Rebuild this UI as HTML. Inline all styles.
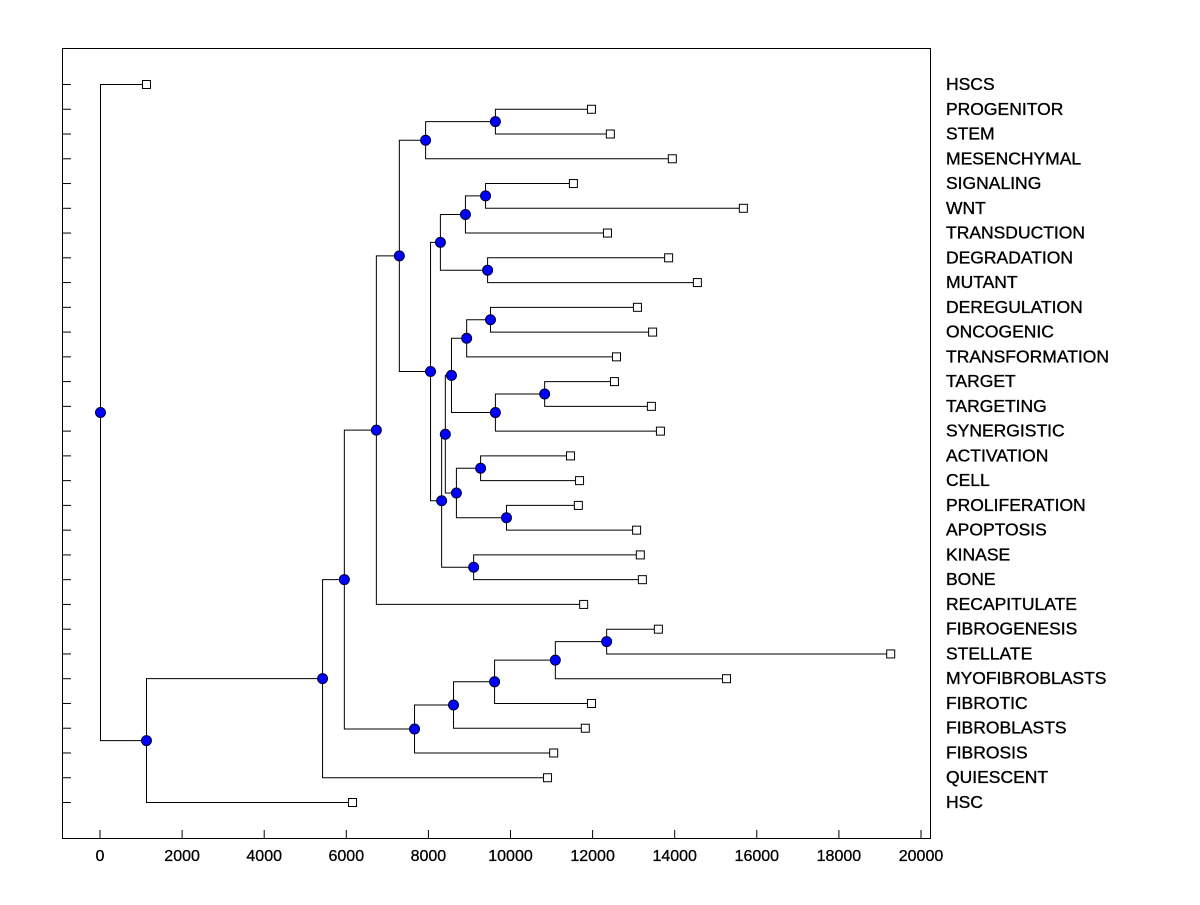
<!DOCTYPE html>
<html><head><meta charset="utf-8"><style>
body{margin:0;background:#fff}
svg text{font-family:"Liberation Sans",Arial,sans-serif;font-size:16px;fill:#000}
svg text.lbl{font-size:17.5px;stroke:#000;stroke-width:0.35}
svg text.tk{stroke:#000;stroke-width:0.3}
</style></head><body>
<svg id="chart" width="1200" height="900" xmlns="http://www.w3.org/2000/svg">
<rect x="62.5" y="48.5" width="868" height="790" fill="none" stroke="#000" stroke-width="1"/>
<g id="ticks"></g><g id="tree"></g><g id="marks"></g><g id="labels"></g>
</svg>
<script>
const leafNames=["HSCS","PROGENITOR","STEM","MESENCHYMAL","SIGNALING","WNT","TRANSDUCTION","DEGRADATION","MUTANT","DEREGULATION","ONCOGENIC","TRANSFORMATION","TARGET","TARGETING","SYNERGISTIC","ACTIVATION","CELL","PROLIFERATION","APOPTOSIS","KINASE","BONE","RECAPITULATE","FIBROGENESIS","STELLATE","MYOFIBROBLASTS","FIBROTIC","FIBROBLASTS","FIBROSIS","QUIESCENT","HSC"];
const leafValues=[1120,11960,12420,13930,11520,15660,12350,13840,14540,13080,13450,12570,12520,13420,13640,11450,11670,11640,13060,13150,13200,11770,13590,19250,15250,11960,11810,11040,10890,6140];
const nodeNames=["a","b","c","d","e","f","g","h","i","j","k","l","m","n","o","p","q","r","s","t","u","v","w","x","y","z","aa","bb","root"];
const nodeChildren=[["PROGENITOR","STEM"],["a","MESENCHYMAL"],["SIGNALING","WNT"],["c","TRANSDUCTION"],["DEGRADATION","MUTANT"],["d","e"],["DEREGULATION","ONCOGENIC"],["g","TRANSFORMATION"],["TARGET","TARGETING"],["i","SYNERGISTIC"],["h","j"],["ACTIVATION","CELL"],["PROLIFERATION","APOPTOSIS"],["l","m"],["k","n"],["KINASE","BONE"],["o","p"],["f","q"],["b","r"],["s","RECAPITULATE"],["FIBROGENESIS","STELLATE"],["u","MYOFIBROBLASTS"],["v","FIBROTIC"],["w","FIBROBLASTS"],["x","FIBROSIS"],["t","y"],["z","QUIESCENT"],["aa","HSC"],["HSCS","bb"]];
const nodeHeights=[9620,7920,9380,8890,9430,8280,9500,8920,10820,9620,8550,9260,9890,8670,8400,9090,8310,8040,7280,6720,12330,11080,9600,8600,7650,5940,5410,1120,0];
const xTicks=[0,2000,4000,6000,8000,10000,12000,14000,16000,18000,20000];

const NS="http://www.w3.org/2000/svg";
const X=v=>100+v*0.04105;
const Y=i=>84+i*(802-84)/29;
function mk(tag,attrs,parent){const e=document.createElementNS(NS,tag);for(const k in attrs)e.setAttribute(k,attrs[k]);document.getElementById(parent).appendChild(e);return e;}
xTicks.forEach(t=>{
  const l=mk("line",{x1:X(t),x2:X(t),y1:838,y2:830,stroke:"#000"},"ticks");
  
  
  const tx=mk("text",{x:X(t),y:861,"text-anchor":"middle","class":"tk"},"ticks");
  tx.textContent=t;
  
  
});
const pos={};
leafNames.forEach((n,i)=>{pos[n]={x:X(leafValues[i]),y:Y(i),leaf:true};
  const l=mk("line",{x1:62,x2:71,y1:Y(i)+0.5,y2:Y(i)+0.5,stroke:"#000"},"ticks");
  
  
  const t=mk("text",{x:946,y:Y(i)+6,"class":"lbl"},"labels");t.textContent=n;
  
  
});
nodeNames.forEach((n,i)=>{
  const [a,b]=nodeChildren[i];const px=X(nodeHeights[i]);
  const py=(pos[a].y+pos[b].y)/2;pos[n]={x:px,y:py};
  [a,b].forEach(c=>{
    const p=mk("path",{d:`M${px+0.5},${py+0.5}V${pos[c].y+0.5}H${pos[c].x+0.5}`,fill:"none",stroke:"#000","stroke-width":1},"tree");
    
    
  });
});
leafNames.forEach(n=>{
  const r=mk("rect",{x:pos[n].x-3.5,y:pos[n].y-3.5,width:8,height:8,fill:"#fff",stroke:"#000"},"marks");
  
  
});
nodeNames.forEach(n=>{
  const c=mk("circle",{cx:pos[n].x+0.5,cy:pos[n].y+0.5,r:5,fill:"#0000ff",stroke:"#000030","stroke-width":1},"marks");
  
  
});
</script>
</body></html>
